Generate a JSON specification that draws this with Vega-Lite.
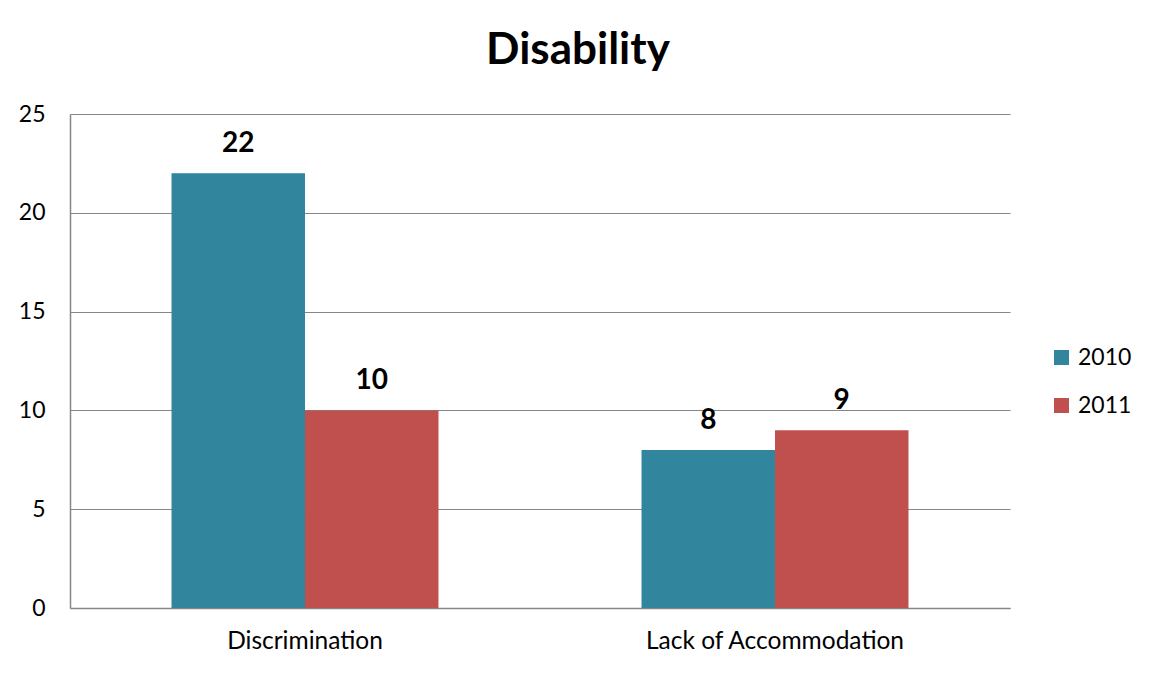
{
  "$schema": "https://vega.github.io/schema/vega-lite/v6.json",
  "autosize": "none",
  "width": 940,
  "height": 494,
  "padding": {"left": 70, "top": 114, "right": 145, "bottom": 67},
  "background": "white",
  "config": {"view": {"stroke": null}, "font": "Lato"},
  "title": {"text": "Disability", "fontSize": 44, "fontWeight": "bold", "color": "black", "anchor": "middle", "frame": "group", "dx": 38, "offset": 30, "font": "Lato"},
  "data": {"values": [
    {"category": "Discrimination", "year": "2010", "value": 22},
    {"category": "Discrimination", "year": "2011", "value": 10},
    {"category": "Lack of Accommodation", "year": "2010", "value": 8},
    {"category": "Lack of Accommodation", "year": "2011", "value": 9}
  ]},
  "encoding": {
    "x": {"field": "category", "type": "nominal", "sort": null,
      "scale": {"paddingInner": 0.432, "paddingOuter": 0.216},
      "axis": {"title": null, "labelAngle": 0, "labelFontSize": 24.5, "labelLimit": 0, "labelColor": "black", "labelPadding": 21, "ticks": false, "domainColor": "#868686", "domainWidth": 1.5, "labelFont": "Lato"}},
    "xOffset": {"field": "year", "type": "nominal", "scale": {"paddingInner": 0, "paddingOuter": 0}},
    "y": {"field": "value", "type": "quantitative",
      "scale": {"domain": [0, 25]},
      "axis": {"title": null, "values": [0, 5, 10, 15, 20, 25], "labelFontSize": 23, "labelColor": "black", "labelPadding": 25, "ticks": false, "domainColor": "#868686", "domainWidth": 1.5, "gridColor": "#868686", "gridWidth": 1.2, "labelFont": "Lato"}}
  },
  "layer": [
    {"mark": {"type": "bar"},
     "encoding": {"color": {"field": "year", "type": "nominal",
        "scale": {"domain": ["2010", "2011"], "range": ["#31859C", "#C0504D"]},
        "legend": {"title": null, "orient": "none", "legendX": 980, "legendY": 232, "symbolType": "square", "symbolSize": 225, "labelFontSize": 23, "labelColor": "black", "rowPadding": 24, "labelOffset": 5, "labelFont": "Lato"}}}},
    {"mark": {"type": "text", "baseline": "bottom", "dy": -15, "fontSize": 28, "fontWeight": "bold", "color": "black", "font": "Lato"},
     "encoding": {"text": {"field": "value", "type": "quantitative"}}}
  ]
}
